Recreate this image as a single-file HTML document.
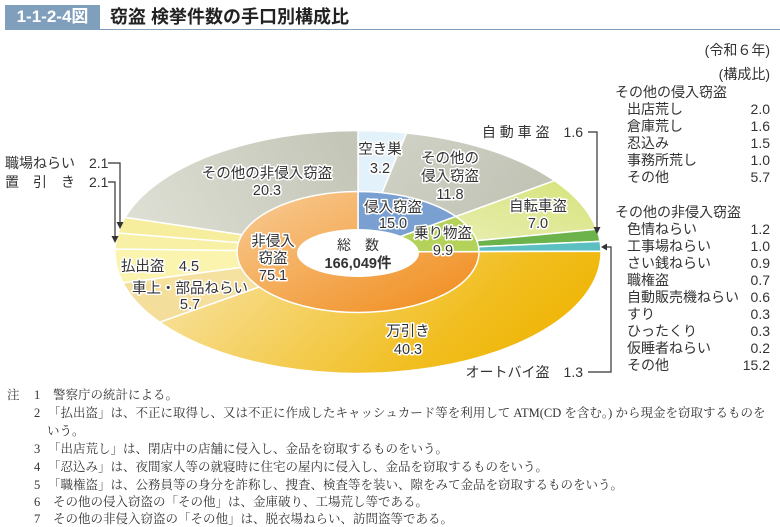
<!DOCTYPE html>
<html><head><meta charset="utf-8">
<style>
body{margin:0;background:#fff;}
.w{position:relative;width:780px;height:527px;overflow:hidden;font-family:"Liberation Sans","Noto Sans CJK JP",sans-serif;color:#333;}
.hdr{position:absolute;left:5px;top:5px;width:95px;height:24px;background:#7f9fbc;color:#fff;font-weight:bold;font-size:17px;line-height:24px;text-align:center;}
.ttl{position:absolute;left:110px;top:4px;font-size:18px;font-weight:bold;color:#222;line-height:26px;}
.hl{position:absolute;left:5px;top:29px;width:775px;height:1px;background:#7f9fbc;}
.r{position:absolute;font-size:14px;line-height:17px;color:#333;}
.n{position:absolute;font-family:"Liberation Serif","Noto Serif CJK SC",serif;font-size:12.5px;line-height:18px;color:#333;white-space:nowrap;}
</style></head><body><div class="w">
<div class="hdr">1-1-2-4図</div>
<div class="ttl">窃盗 検挙件数の手口別構成比</div>
<div class="hl"></div>

<svg width="780" height="527" style="position:absolute;left:0;top:0" font-family="Liberation Sans, Noto Sans CJK JP, sans-serif">
<defs>
<linearGradient id="gm" x1="0" y1="0.3" x2="1" y2="0.6"><stop offset="0" stop-color="#f8e2a0"/><stop offset="0.7" stop-color="#f1be20"/><stop offset="1" stop-color="#f0b400"/></linearGradient>
<linearGradient id="gg" x1="0" y1="0.6" x2="1" y2="0.3"><stop offset="0" stop-color="#dedfd4"/><stop offset="1" stop-color="#c4c6b8"/></linearGradient>
<linearGradient id="go" x1="0" y1="0" x2="1" y2="0.5"><stop offset="0" stop-color="#d2d4c8"/><stop offset="1" stop-color="#c0c2b4"/></linearGradient>
<linearGradient id="gb" x1="0" y1="1" x2="1" y2="0"><stop offset="0" stop-color="#eef2c4"/><stop offset="1" stop-color="#d6e37a"/></linearGradient>
<linearGradient id="gi" x1="0" y1="0" x2="1" y2="1"><stop offset="0" stop-color="#f8cc96"/><stop offset="1" stop-color="#f08a18"/></linearGradient>
<linearGradient id="gc" x1="0" y1="1" x2="1" y2="0"><stop offset="0" stop-color="#f4dc98"/><stop offset="1" stop-color="#f6e6a8"/></linearGradient>
</defs>
<g transform="translate(358,252) scale(1,0.5)" stroke="#fff" stroke-width="1.5">
<path vector-effect="non-scaling-stroke" d="M0,0 L0,-243 A243,243 0 0 1 48.5,-238.1Z" fill="#e3f2fa"/>
<path vector-effect="non-scaling-stroke" d="M0,0 L48.5,-238.1 A243,243 0 0 1 196.6,-142.8Z" fill="url(#go)"/>
<path vector-effect="non-scaling-stroke" d="M0,0 L196.6,-142.8 A243,243 0 0 1 238.7,-45.5Z" fill="url(#gb)"/>
<path vector-effect="non-scaling-stroke" d="M0,0 L238.7,-45.5 A243,243 0 0 1 242.1,-21.3Z" fill="#6cb34c"/>
<path vector-effect="non-scaling-stroke" d="M0,0 L242.1,-21.3 A243,243 0 0 1 243,-1.5Z" fill="#5cc0c2"/>
<path vector-effect="non-scaling-stroke" d="M0,0 L243,-1.5 A243,243 0 0 1 -198.4,140.3Z" fill="url(#gm)"/>
<path vector-effect="non-scaling-stroke" d="M0,0 L-198.4,140.3 A243,243 0 0 1 -235,61.9Z" fill="url(#gc)"/>
<path vector-effect="non-scaling-stroke" d="M0,0 L-235,61.9 A243,243 0 0 1 -242.9,-6.1Z" fill="#fbf4ae"/>
<path vector-effect="non-scaling-stroke" d="M0,0 L-242.9,-6.1 A243,243 0 0 1 -240,-38Z" fill="#f8f0a4"/>
<path vector-effect="non-scaling-stroke" d="M0,0 L-240,-38 A243,243 0 0 1 -232.9,-69.3Z" fill="#f6ee9c"/>
<path vector-effect="non-scaling-stroke" d="M0,0 L-232.9,-69.3 A243,243 0 0 1 0,-243Z" fill="url(#gg)"/>
<path vector-effect="non-scaling-stroke" d="M0,0 L0,-121 A121,121 0 0 1 97.9,-71.1Z" fill="#7aa0d2"/>
<path vector-effect="non-scaling-stroke" d="M0,0 L97.9,-71.1 A121,121 0 0 1 121,-0.8Z" fill="#b4d25a"/>
<path vector-effect="non-scaling-stroke" d="M0,0 L121,-0.8 A121,121 0 1 1 0,-121Z" fill="url(#gi)"/>
</g>
<ellipse cx="358" cy="253" rx="61" ry="24" fill="#fff"/>

<g font-size="14.5" fill="#333" text-anchor="middle" stroke="#fff" stroke-width="3" paint-order="stroke" stroke-linejoin="round">
<text x="380" y="154">空き巣</text><text x="380" y="173">3.2</text>
<text x="450" y="163">その他の</text><text x="450" y="181">侵入窃盗</text><text x="450" y="199">11.8</text>
<text x="538" y="211">自転車盗</text><text x="538" y="228">7.0</text>
<text x="267" y="178">その他の非侵入窃盗</text><text x="267" y="195">20.3</text>
<text x="393" y="212">侵入窃盗</text><text x="393" y="228">15.0</text>
<text x="443" y="238">乗り物盗</text><text x="443" y="255">9.9</text>
<text x="273" y="246">非侵入</text><text x="273" y="263">窃盗</text><text x="273" y="280">75.1</text>
<text x="160" y="271">払出盗　4.5</text>
<text x="190" y="293">車上・部品ねらい</text><text x="190" y="309">5.7</text>
<text x="408" y="336">万引き</text><text x="408" y="354">40.3</text>
</g>
<text x="358" y="250" font-size="14" text-anchor="middle" fill="#333">総　数</text>
<text x="358" y="268" font-size="14.5" font-weight="bold" text-anchor="middle" fill="#333">166,049件</text>

<g font-size="14" fill="#333">
<text x="5" y="168">職場ねらい　2.1</text>
<text x="5" y="187">置　引　き　2.1</text>
<text x="583" y="137" text-anchor="end">自 動 車 盗　1.6</text>
<text x="583" y="377" text-anchor="end">オートバイ盗　1.3</text>
</g>
<g stroke="#333" stroke-width="1.2" fill="none">
<polyline points="108,163 120,163 120,224"/>
<polyline points="108,182 115,182 115,238"/>
<polyline points="588,132 597,132 597,229"/>
<polyline points="588,372 611,372 611,247 606,247"/>
</g>
<g fill="#333">
<polygon points="116.5,222 123.5,222 120,229"/>
<polygon points="111.5,236 118.5,236 115,243"/>
<polygon points="593.5,227 600.5,227 597,234"/>
<polygon points="607,243.5 607,250.5 601,247"/>
</g>
</svg>

<div class="r" style="left:700px;top:42px;width:70px;text-align:right">(令和６年)</div>
<div class="r" style="left:680px;top:66px;width:90px;text-align:right">(構成比)</div>
<div class="r" style="left:615px;top:84px;">その他の侵入窃盗</div>
<div class="r" style="left:627px;top:101px;width:143px;">出店荒し<span style="float:right">2.0</span></div>
<div class="r" style="left:627px;top:118px;width:143px;">倉庫荒し<span style="float:right">1.6</span></div>
<div class="r" style="left:627px;top:135px;width:143px;">忍込み<span style="float:right">1.5</span></div>
<div class="r" style="left:627px;top:152px;width:143px;">事務所荒し<span style="float:right">1.0</span></div>
<div class="r" style="left:627px;top:169px;width:143px;">その他<span style="float:right">5.7</span></div>
<div class="r" style="left:615px;top:204px;">その他の非侵入窃盗</div>
<div class="r" style="left:627px;top:221px;width:143px;">色情ねらい<span style="float:right">1.2</span></div>
<div class="r" style="left:627px;top:238px;width:143px;">工事場ねらい<span style="float:right">1.0</span></div>
<div class="r" style="left:627px;top:255px;width:143px;">さい銭ねらい<span style="float:right">0.9</span></div>
<div class="r" style="left:627px;top:272px;width:143px;">職権盗<span style="float:right">0.7</span></div>
<div class="r" style="left:627px;top:289px;width:143px;">自動販売機ねらい<span style="float:right">0.6</span></div>
<div class="r" style="left:627px;top:306px;width:143px;">すり<span style="float:right">0.3</span></div>
<div class="r" style="left:627px;top:323px;width:143px;">ひったくり<span style="float:right">0.3</span></div>
<div class="r" style="left:627px;top:340px;width:143px;">仮睡者ねらい<span style="float:right">0.2</span></div>
<div class="r" style="left:627px;top:357px;width:143px;">その他<span style="float:right">15.2</span></div>

<div class="n" style="left:7px;top:386px">注</div>
<div class="n" style="left:34px;top:386px">1</div><div class="n" style="left:53px;top:386px">警察庁の統計による。</div>
<div class="n" style="left:34px;top:404px">2</div><div class="n" style="left:48px;top:404px">「払出盗」は、不正に取得し、又は不正に作成したキャッシュカード等を利用して ATM(CD を含む。) から現金を窃取するものを</div>
<div class="n" style="left:47px;top:422px">いう。</div>
<div class="n" style="left:34px;top:440px">3</div><div class="n" style="left:48px;top:440px">「出店荒し」は、閉店中の店舗に侵入し、金品を窃取するものをいう。</div>
<div class="n" style="left:34px;top:458px">4</div><div class="n" style="left:48px;top:458px">「忍込み」は、夜間家人等の就寝時に住宅の屋内に侵入し、金品を窃取するものをいう。</div>
<div class="n" style="left:34px;top:476px">5</div><div class="n" style="left:48px;top:476px">「職権盗」は、公務員等の身分を詐称し、捜査、検査等を装い、隙をみて金品を窃取するものをいう。</div>
<div class="n" style="left:34px;top:493px">6</div><div class="n" style="left:53px;top:493px">その他の侵入窃盗の「その他」は、金庫破り、工場荒し等である。</div>
<div class="n" style="left:34px;top:510px">7</div><div class="n" style="left:53px;top:510px">その他の非侵入窃盗の「その他」は、脱衣場ねらい、訪問盗等である。</div>
</div></body></html>
